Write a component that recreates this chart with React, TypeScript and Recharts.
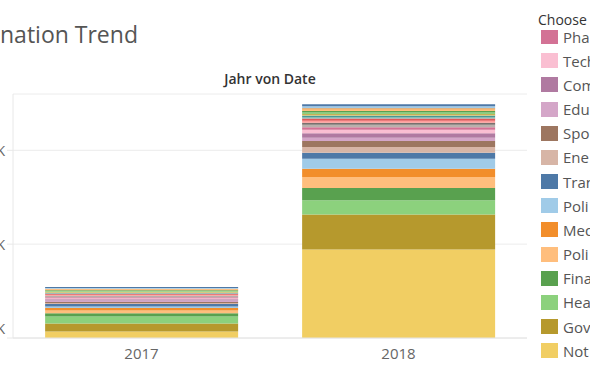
import React from "react";
import { BarChart, Bar, XAxis, YAxis, CartesianGrid } from "recharts";

// Stack order, bottom -> top. Only the first 14 are visible in the (scrolled) legend.
const SERIES_KEYS = [
  "not", "gov", "hea", "fina", "poli2", "med", "poli1", "tran",
  "ene", "spo", "edu", "com", "tech", "pha",
  "c15", "c16", "c17", "c18", "c19", "c20", "c21", "c22",
  "c23", "c24", "c25", "c26", "c27", "c28",
];

const LEGEND_LABELS = [
  "Not", "Gov", "Hea", "Fina", "Poli", "Med", "Poli", "Tran",
  "Ene", "Spo", "Edu", "Com", "Tech", "Pha",
];

const SERIES_COLORS = [
  "#F1CE63", "#B6992D", "#8CD17D", "#59A14F", "#FFBE7D", "#F28E2B", "#A0CBE8", "#4E79A7",
  "#D7B5A6", "#9D7660", "#D4A6C8", "#B07AA1", "#FABFD2", "#D37295",
  "#BAB0AC", "#79706E", "#FF9D9A", "#E15759", "#86BCB6", "#499894", "#F1CE63", "#B6992D",
  "#8CD17D", "#59A14F", "#FFBE7D", "#F28E2B", "#A0CBE8", "#4E79A7",
];

const YEARS = ["2017", "2018"];

const VALUES_2017 = [
  700, 850, 745, 355, 285, 250, 180, 250,
  120, 110, 150, 130, 120, 110,
  90, 60, 110, 90, 70, 60, 40, 60,
  70, 90, 90, 70, 70, 105,
];

const VALUES_2018 = [
  9430, 3720, 1520, 1310, 1170, 890, 1060, 640,
  600, 640, 360, 490, 360, 280,
  250, 220, 210, 250, 160, 150, 80, 80,
  170, 160, 150, 140, 200, 210,
];

const Y_TICKS = [0, 10000, 20000];

const data = YEARS.map((year, yi) => {
  const row: Record<string, string | number> = { year };
  const vals = yi === 0 ? VALUES_2017 : VALUES_2018;
  SERIES_KEYS.forEach((k, i) => {
    row[k] = vals[i];
  });
  return row;
});

const FONT = "'Open Sans', 'Noto Sans', sans-serif";

function YTick(props: any) {
  const { x, y, payload } = props;
  const v = Number(payload.value);
  // Tableau nudges the bottom label up into the pane
  const yy = v === 0 ? y - 10 : y;
  return (
    <text
      x={x}
      y={yy}
      textAnchor="end"
      dominantBaseline="central"
      fontSize={14}
      fill="#666"
      fontFamily={FONT}
    >
      {`${v / 1000}K`}
    </text>
  );
}

export default function App() {
  // legend shows stack top-down, starting at "Pha" (list is scrolled)
  const legendItems = LEGEND_LABELS.map((label, i) => ({
    label,
    color: SERIES_COLORS[i],
  })).reverse();

  return (
    <div
      style={{
        position: "fixed",
        left: 0,
        top: 0,
        width: 590,
        height: 369,
        overflow: "hidden",
        background: "#fff",
        fontFamily: FONT,
      }}
    >
      <BarChart
        width={590}
        height={369}
        data={data}
        margin={{ top: 94, right: 63, bottom: 1, left: 0 }}
        barCategoryGap="12.5%"
      >
        <CartesianGrid horizontal vertical={false} stroke="#ececec" />
        <XAxis
          dataKey="year"
          height={30}
          axisLine={{ stroke: "#e4e4e4" }}
          tickLine={false}
          tickMargin={4}
          tick={{ fontSize: 15, fill: "#666", fontFamily: FONT }}
        />
        <YAxis
          width={13}
          domain={[0, 26000]}
          ticks={Y_TICKS}
          allowDataOverflow
          axisLine={{ stroke: "#e8e8e8" }}
          tickLine={{ stroke: "#e8e8e8" }}
          tickSize={6}
          tick={<YTick />}
        />
        {SERIES_KEYS.map((k, i) => (
          <Bar
            key={k}
            dataKey={k}
            stackId="a"
            fill={SERIES_COLORS[i]}
            isAnimationActive={false}
          />
        ))}
      </BarChart>

      <svg
        width={590}
        height={369}
        style={{ position: "absolute", left: 0, top: 0, pointerEvents: "none" }}
      >
        <text x={0} y={43} fontSize={23} fill="#555" fontFamily={FONT}>
          nation Trend
        </text>
        <text
          x={270}
          y={84}
          fontSize={14}
          fontWeight={600}
          fill="#333"
          textAnchor="middle"
          fontFamily={FONT}
        >
          Jahr von Date
        </text>
        <text x={538} y={25} fontSize={14} fill="#333" fontFamily={FONT}>
          Choose
        </text>
      </svg>

      <div
        style={{
          position: "absolute",
          left: 538,
          top: 30,
          width: 60,
          height: 339,
          overflow: "hidden",
        }}
      >
        {legendItems.map((it, i) => (
          <div
            key={i}
            style={{
              position: "absolute",
              left: 0,
              top: 6.5 + i * 24.18 - 9,
              height: 18,
              lineHeight: "18px",
              display: "flex",
              alignItems: "center",
              whiteSpace: "nowrap",
            }}
          >
            <div
              style={{
                width: 17,
                height: 15,
                marginLeft: 3,
                background: it.color,
              }}
            />
            <span style={{ marginLeft: 5, fontSize: 15, color: "#555" }}>{it.label}</span>
          </div>
        ))}
      </div>
    </div>
  );
}
